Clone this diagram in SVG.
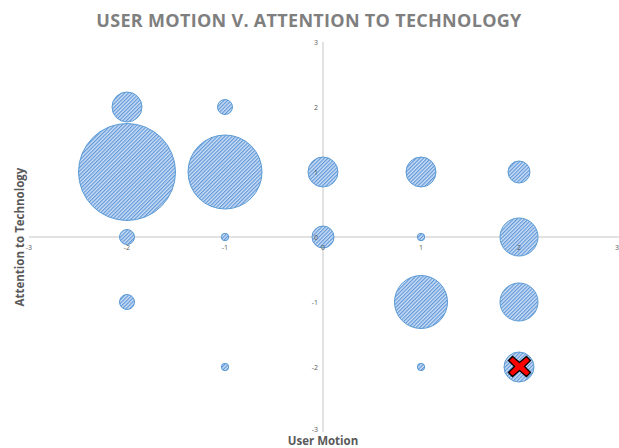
<svg xmlns="http://www.w3.org/2000/svg" width="619" height="448" viewBox="0 0 619 448">
  <defs>
    <pattern id="hatch" width="2.6" height="2.6" patternUnits="userSpaceOnUse" patternTransform="rotate(45)">
      <rect width="2.6" height="2.6" fill="#cfe0f5"/>
      <rect width="1.2" height="2.6" fill="#5f97da"/>
    </pattern>
  </defs>
  <style>
    .title { font-family: "Open Sans", "Liberation Sans", sans-serif; font-weight: bold; font-size: 18px; fill: #7f7f7f; letter-spacing: 0.3px; }
    .axis-title { font-family: "Open Sans", "Liberation Sans", sans-serif; font-weight: bold; font-size: 11.5px; fill: #595959; }
    .tick { font-family: "Open Sans", "Liberation Sans", sans-serif; font-size: 7px; fill: #595959; }
    .axis { stroke: #d9d9d9; stroke-width: 1.5; }
    .bubble { fill: url(#hatch); stroke: #5b9bd5; stroke-width: 1; }
    .marker-x { fill: #ff0000; stroke: #000000; stroke-width: 1.3; stroke-linejoin: miter; }
  </style>

  <rect width="619" height="448" fill="#ffffff"/>

  <text class="title" x="309" y="27" text-anchor="middle">USER MOTION V. ATTENTION TO TECHNOLOGY</text>

  <!-- axes -->
  <g id="axes">
    <line class="axis" x1="29" y1="237" x2="619" y2="237"/>
    <line class="axis" x1="323" y1="42" x2="323" y2="432"/>
  </g>

  <!-- bubbles: x = 323 + 98u, y = 237 - 65v -->
  <g id="bubbles">
    <g id="b-m2-p2"><circle class="bubble" cx="127" cy="107" r="15"/></g>
    <g id="b-m2-p1"><circle class="bubble" cx="127" cy="172" r="48.5"/></g>
    <g id="b-m2-0"><circle class="bubble" cx="127" cy="237" r="7.5"/></g>
    <g id="b-m2-m1"><circle class="bubble" cx="127" cy="302" r="7.5"/></g>
    <g id="b-m1-p2"><circle class="bubble" cx="225" cy="107" r="7.5"/></g>
    <g id="b-m1-p1"><circle class="bubble" cx="225" cy="172" r="37"/></g>
    <g id="b-m1-0"><circle class="bubble" cx="225" cy="237" r="3.7"/></g>
    <g id="b-m1-m2"><circle class="bubble" cx="225" cy="367" r="3.7"/></g>
    <g id="b-0-p1"><circle class="bubble" cx="323" cy="172" r="15"/></g>
    <g id="b-0-0"><circle class="bubble" cx="323" cy="237" r="11"/></g>
    <g id="b-p1-p1"><circle class="bubble" cx="421" cy="172" r="15"/></g>
    <g id="b-p1-0"><circle class="bubble" cx="421" cy="237" r="3.7"/></g>
    <g id="b-p1-m1"><circle class="bubble" cx="421" cy="302" r="26.5"/></g>
    <g id="b-p1-m2"><circle class="bubble" cx="421" cy="367" r="3.7"/></g>
    <g id="b-p2-p1"><circle class="bubble" cx="519" cy="172" r="11"/></g>
    <g id="b-p2-0"><circle class="bubble" cx="519" cy="237" r="19"/></g>
    <g id="b-p2-m1"><circle class="bubble" cx="519" cy="302" r="19"/></g>
    <g id="b-p2-m2"><circle class="bubble" cx="519" cy="367" r="15"/></g>
  </g>

  <!-- tick labels -->
  <g id="x-ticks" text-anchor="middle">
    <text class="tick" x="29" y="250">-3</text>
    <text class="tick" x="127" y="250">-2</text>
    <text class="tick" x="225" y="250">-1</text>
    <text class="tick" x="323" y="250">0</text>
    <text class="tick" x="421" y="250">1</text>
    <text class="tick" x="519" y="250">2</text>
    <text class="tick" x="617" y="250">3</text>
  </g>
  <g id="y-ticks" text-anchor="end">
    <text class="tick" x="318" y="45">3</text>
    <text class="tick" x="318" y="110">2</text>
    <text class="tick" x="318" y="175">1</text>
    <text class="tick" x="318" y="240">0</text>
    <text class="tick" x="318" y="305">-1</text>
    <text class="tick" x="318" y="370">-2</text>
    <text class="tick" x="318" y="432">-3</text>
  </g>

  <!-- highlight marker -->
  <g id="marker" transform="translate(519.5,366.5)">
    <polygon class="marker-x" points="-11,-6 -7,-10 0,-4 7,-10 11,-6 5,0 11,6 7,10 0,4 -7,10 -11,6 -5,0"/>
  </g>

  <text class="axis-title" x="323" y="445" text-anchor="middle">User Motion</text>
  <text class="axis-title" transform="translate(24,237) rotate(-90)" text-anchor="middle">Attention to Technology</text>
</svg>
